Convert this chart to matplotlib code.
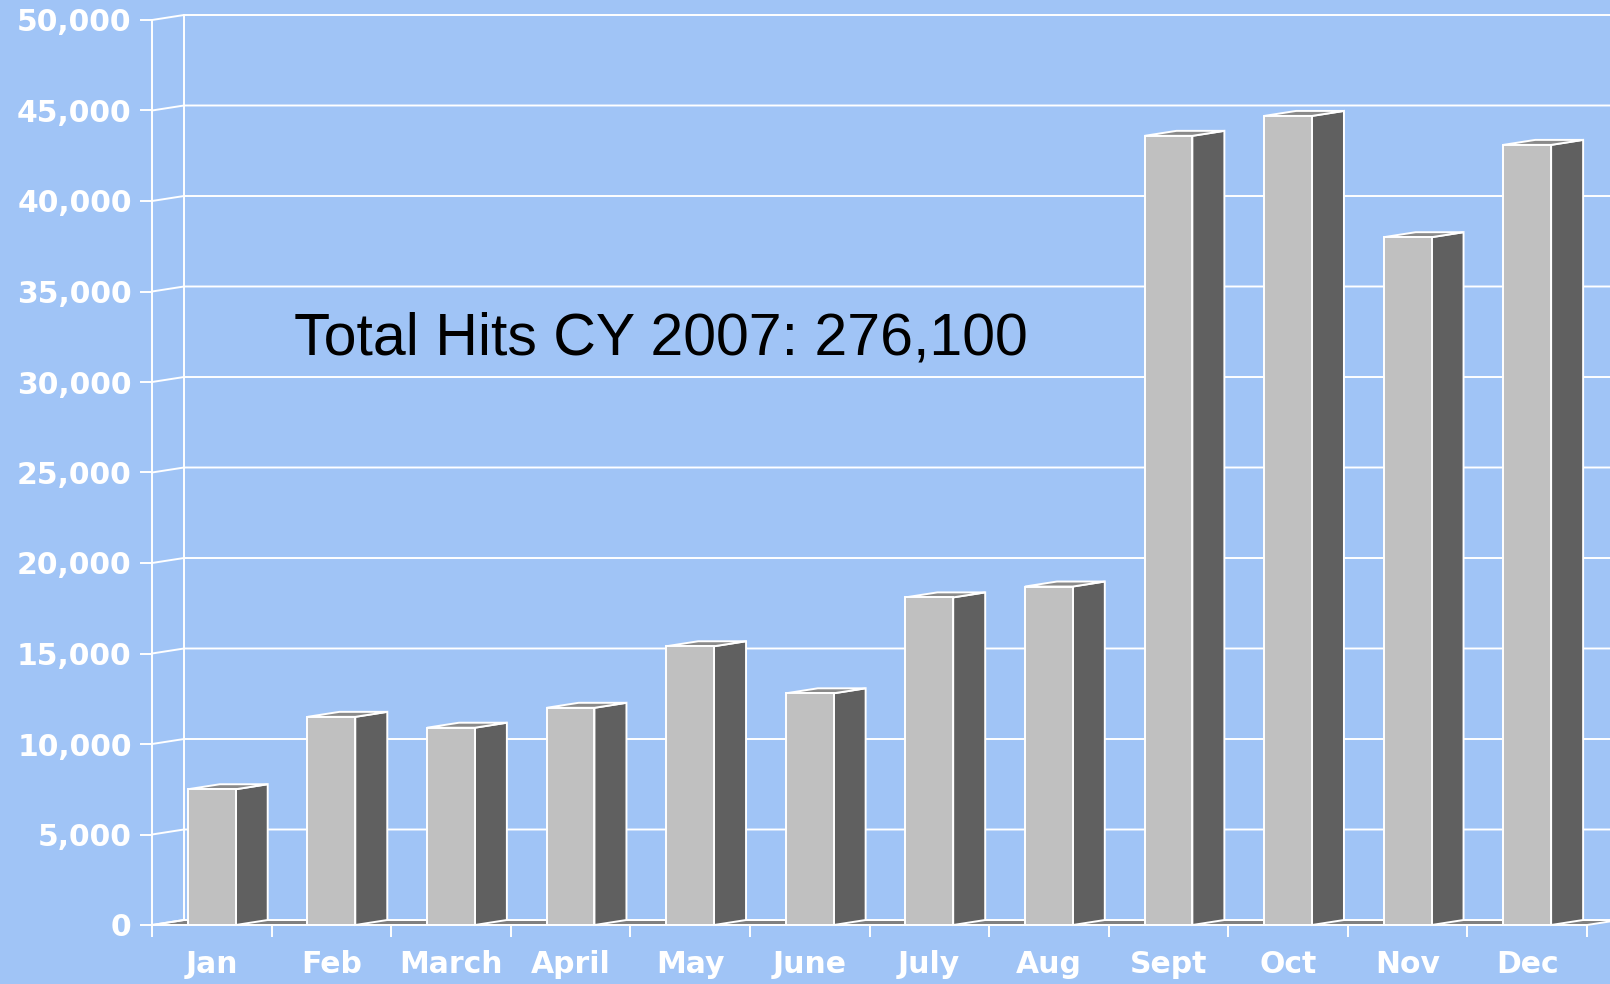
import matplotlib
matplotlib.use('Agg')
import matplotlib.pyplot as plt
from matplotlib.patches import Polygon, Rectangle

# monthly hits, CY 2007
months = ['Jan', 'Feb', 'March', 'April', 'May', 'June',
          'July', 'Aug', 'Sept', 'Oct', 'Nov', 'Dec']
hits = [7500, 11500, 10900, 12000, 15400, 12800,
        18100, 18700, 43600, 44700, 38000, 43100]
y_ticks = list(range(0, 50001, 5000))
note = 'Total Hits CY 2007: 276,100'

bg = '#A0C4F6'
front_col = '#C0C0C0'
side_col = '#606060'
top_col = '#8A8A8A'
floor_col = '#808080'
W, H = 1610, 984

fig = plt.figure(figsize=(W / 100, H / 100), dpi=100, facecolor=bg)
ax = fig.add_axes([152 / W, 59 / H, 1435 / W, 905 / H], facecolor=bg)
n = len(months)
ymax = 50000
ax.set_xlim(-0.5, n - 0.5)
ax.set_ylim(0, ymax)

# depth of the fake 3d box, converted from pixels to data units
dx = 32 / (1435 / n)
dy = 5 * ymax / 905
bw = 0.40
lw = 1.4

# floor
ax.add_patch(Polygon([(-0.5, 0), (n - 0.5, 0), (n - 0.5 + dx, dy), (-0.5 + dx, dy)],
                     closed=True, facecolor=floor_col, edgecolor='white', lw=lw,
                     clip_on=False, zorder=1))

# back wall grid + side wall slants
for v in y_ticks:
    ax.plot([-0.5, -0.5 + dx, n + 1], [v, v + dy, v + dy], color='white', lw=lw,
            clip_on=False, zorder=1)
ax.plot([-0.5 + dx, -0.5 + dx], [dy, ymax + dy], color='white', lw=lw, clip_on=False, zorder=1)

# bars
for i, v in enumerate(hits):
    x0, x1 = i - bw / 2, i + bw / 2
    ax.add_patch(Polygon([(x1, 0), (x1 + dx, dy), (x1 + dx, v + dy), (x1, v)], closed=True,
                         facecolor=side_col, edgecolor='white', lw=lw, zorder=3, clip_on=False))
    ax.add_patch(Polygon([(x0, v), (x1, v), (x1 + dx, v + dy), (x0 + dx, v + dy)], closed=True,
                         facecolor=top_col, edgecolor='white', lw=lw, zorder=3, clip_on=False))
    ax.add_patch(Rectangle((x0, 0), bw, v, facecolor=front_col, edgecolor='white', lw=lw,
                           zorder=4, clip_on=False))

for s in ['top', 'right']:
    ax.spines[s].set_visible(False)
for s in ['left', 'bottom']:
    ax.spines[s].set_color('white')
    ax.spines[s].set_linewidth(lw)
    ax.spines[s].set_zorder(5)

ax.set_yticks(y_ticks)
ax.set_yticklabels([f'{v:,}' for v in y_ticks])
ax.set_xticks([i - 0.5 for i in range(n + 1)])
ax.set_xticklabels([])
ax.set_xticks(range(n), minor=True)
ax.set_xticklabels(months, minor=True)
ax.tick_params(axis='y', colors='white', length=8.6, width=lw, pad=6, labelsize=21.5)
ax.tick_params(axis='x', which='major', colors='white', length=8.6, width=lw)
ax.tick_params(axis='x', which='minor', colors='white', length=0, pad=18, labelsize=21.5)
for lab in ax.get_yticklabels() + ax.get_xticklabels(minor=True):
    lab.set_fontweight('bold')
    lab.set_family('DejaVu Sans')

fig.text(294 / W, 1 - 354 / H, note, fontsize=42.5, color='black', va='baseline',
         family=['Liberation Sans Narrow', 'Liberation Sans'])

fig.savefig('out.png', dpi=100, facecolor=bg)
